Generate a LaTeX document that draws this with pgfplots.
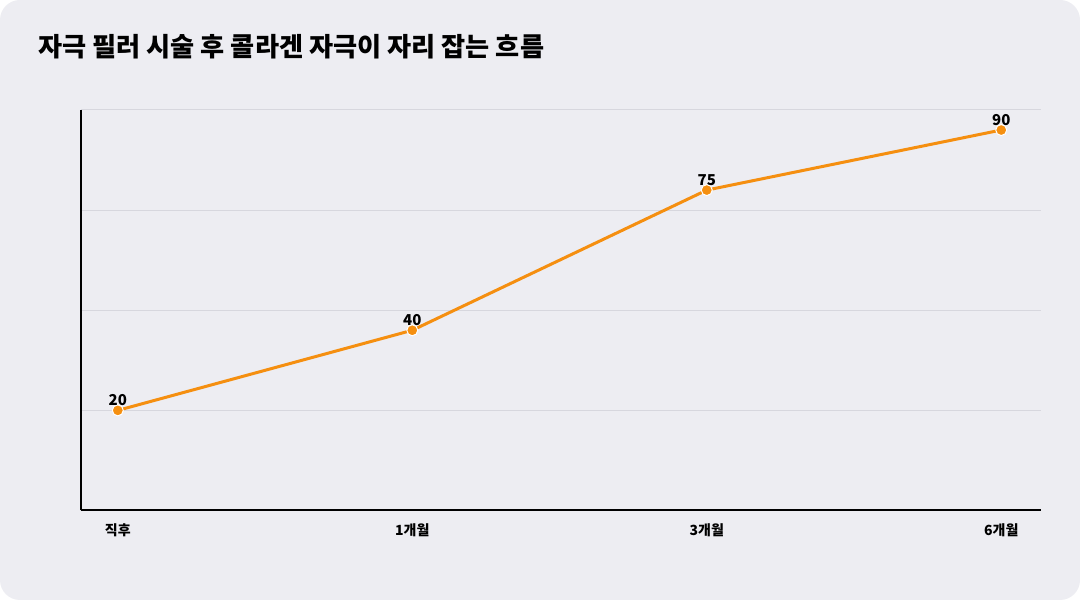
\documentclass[border=0pt]{standalone}
\usepackage{pgfplots}
\pgfplotsset{compat=1.18}
\usepackage{fontspec}
\setmainfont{Noto Sans CJK KR}
\definecolor{bg}{RGB}{237,237,242}
\definecolor{lineor}{RGB}{245,143,16}
\definecolor{gridc}{RGB}{215,215,222}
\begin{document}
\begin{tikzpicture}[x=1pt,y=1pt]
\useasboundingbox (0,0) rectangle (1080,600);
\fill[white] (0,0) rectangle (1080,600);
\fill[bg, rounded corners=20pt] (0,0) rectangle (1080,600);
\node[anchor=west, font=\fontsize{26.2}{30}\selectfont\bfseries, inner sep=0pt] at (38,553) {자극 필러 시술 후 콜라겐 자극이 자리 잡는 흐름};
\begin{axis}[
 at={(81pt,89.5pt)}, anchor=south west,
 scale only axis, width=960pt, height=400.5pt,
 xmin=-0.125, xmax=3.135, ymin=-5, ymax=95,
 axis lines=left, axis line style={-, black, line width=2pt},
 xtick={0,1,2,3}, xticklabels={직후,1개월,3개월,6개월},
 ytick={-5,20,45,70,95}, yticklabels={},
 major tick length=0pt,
 ymajorgrids, grid style={gridc, line width=1pt},
 xticklabel style={font=\fontsize{14}{16}\selectfont\bfseries, yshift=-10pt},
 clip=false,
 /pgf/number format/assume math mode=true,
 nodes near coords,
 every node near coord/.append style={font=\fontsize{15}{17}\selectfont\bfseries, anchor=south, inner sep=0pt, yshift=4pt, black},
]
\addplot[lineor, line width=3pt, mark=*, mark size=5.5pt, mark options={draw=white, line width=1pt, fill=lineor}] coordinates {(0,20)(1,40)(2,75)(3,90)};
\end{axis}
\end{tikzpicture}
\end{document}
